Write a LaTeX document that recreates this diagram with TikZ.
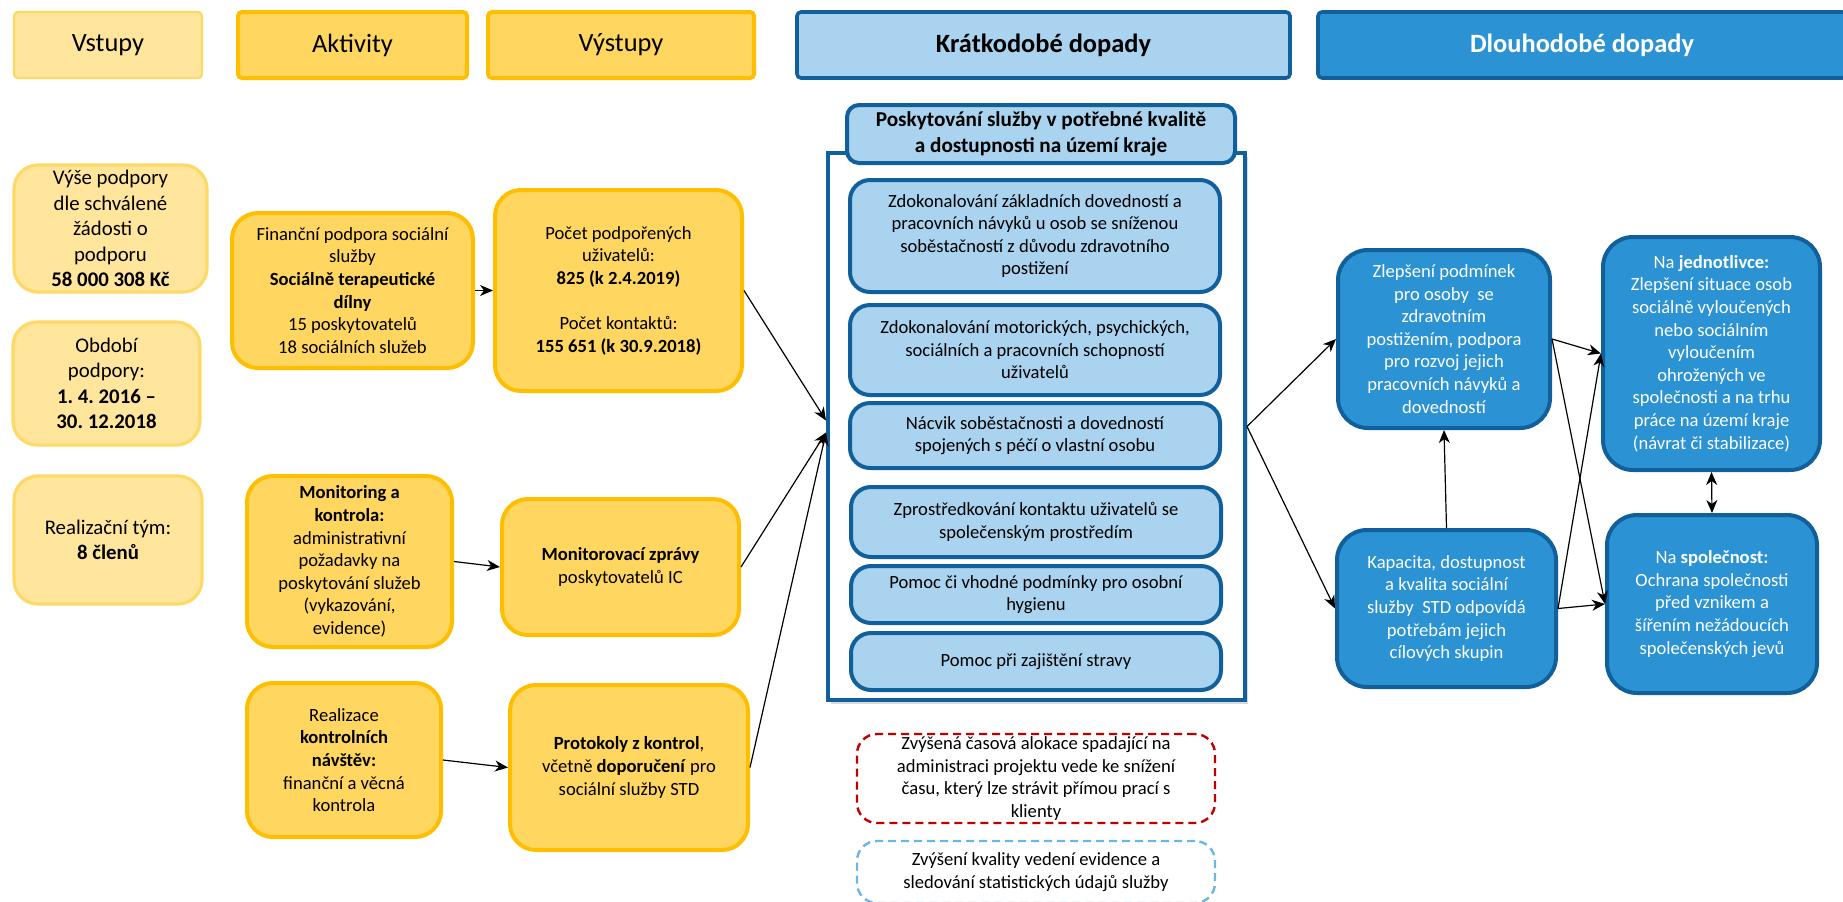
\documentclass[tikz,border=0pt]{standalone}
\usepackage{fontspec}
\setmainfont{Carlito}
\usetikzlibrary{arrows.meta,shadows}
\frenchspacing

\definecolor{vstupfill}{HTML}{FFE69C}
\definecolor{vstupline}{HTML}{FFD966}
\definecolor{aktfill}{HTML}{FFD65F}
\definecolor{aktline}{HTML}{FFBF00}
\definecolor{kratfill}{HTML}{A9D3EE}
\definecolor{modra}{HTML}{11609C}
\definecolor{dlfill}{HTML}{2B93D4}
\definecolor{cervena}{HTML}{C00000}
\definecolor{svetle}{HTML}{6CB6E4}

\begin{document}
\begin{tikzpicture}[x=0.5pt,y=-0.5pt,
    >={Stealth[length=6.5pt,width=5.5pt,inset=2pt]},
    every node/.style={inner sep=0pt,align=center,font=\fontsize{9.3}{11.3}\selectfont},
    hlava/.style={draw=modra,line width=1.8pt,rounded corners=2pt,minimum height=33pt,font=\fontsize{13.2}{16}\selectfont},
    vstup/.style={fill=vstupfill,draw=vstupline,line width=1.6pt,rounded corners=12pt,font=\fontsize{10.4}{12.7}\selectfont},
    akt/.style={fill=aktfill,draw=aktline,line width=2pt,rounded corners=13pt},
    kr/.style={fill=kratfill,draw=modra,line width=2pt,rounded corners=10pt,minimum width=185pt},
    dl/.style={fill=dlfill,draw=modra,line width=2pt,rounded corners=15pt,text=white},
    riziko/.style={draw=cervena,line width=1.2pt,dash pattern=on 4pt off 2.5pt,rounded corners=10pt,minimum width=179pt},
    prinos/.style={draw=svetle,line width=1.2pt,dash pattern=on 4pt off 2.5pt,rounded corners=10pt,minimum width=179pt},
    sipka/.style={->,line width=0.6pt}]
  \useasboundingbox (0,0) rectangle (1843,901);

  % hlavicky sloupcu
  \draw (108,45) node[hlava,fill=vstupfill,draw=vstupline,line width=1.2pt,minimum width=94pt] (h1) {Vstupy};
  \draw (352.5,45) node[hlava,fill=aktfill,draw=aktline,line width=2pt,minimum width=114.5pt] (h2) {Aktivity};
  \draw (621,45) node[hlava,fill=aktfill,draw=aktline,line width=2pt,minimum width=133pt] (h3) {Výstupy};
  \draw (1043.5,45) node[hlava,fill=kratfill,minimum width=246.5pt,font=\bfseries\fontsize{13.2}{16}\selectfont] (h4) {Krátkodobé dopady};
  \draw (1582,45) node[hlava,fill=dlfill,text=white,minimum width=264pt,font=\bfseries\fontsize{13.2}{16}\selectfont] (h5) {Dlouhodobé dopady};

  % vstupy
  \draw (110.5,228.5) node[vstup,minimum width=96.5pt,minimum height=63.5pt] (vyse) {Výše podpory\\dle schválené\\žádosti o\\podporu\\\textbf{58 000 308 Kč}};
  \draw (106.5,383.5) node[vstup,minimum width=93.5pt,minimum height=61.5pt] (obdobi) {Období\\podpory:\\\textbf{1. 4. 2016 –}\\\textbf{30. 12.2018}};
  \draw (108,540) node[vstup,minimum width=94pt,minimum height=64pt] (tym) {Realizační tým:\\\textbf{8 členů}};

  % aktivity
  \draw (352.5,290.5) node[akt,minimum width=120.5pt,minimum height=77.5pt] (fin) {Finanční podpora sociální\\služby\\\textbf{Sociálně terapeutické}\\\textbf{dílny}\\15 poskytovatelů\\18 sociálních služeb};
  \draw (349.5,561.5) node[akt,minimum width=102.5pt,minimum height=85.5pt] (mon) {\textbf{Monitoring a}\\\textbf{kontrola:}\\administrativní\\požadavky na\\poskytování služeb\\(vykazování,\\evidence)};
  \draw (344,760) node[akt,minimum width=97pt,minimum height=77pt] (real) {Realizace\\\textbf{kontrolních}\\\textbf{návštěv:}\\finanční a věcná\\kontrola};

  % vystupy
  \draw (618.5,290.5) node[akt,minimum width=123.5pt,minimum height=100.5pt] (pocet) {Počet podpořených\\uživatelů:\\\textbf{825 (k 2.4.2019)}\\[11.3pt]Počet kontaktů:\\\textbf{155 651 (k 30.9.2018)}};
  \draw (620.5,567) node[akt,minimum width=118.5pt,minimum height=68pt] (zpravy) {\textbf{Monitorovací zprávy}\\poskytovatelů IC};
  \draw (629,767.5) node[akt,minimum width=119pt,minimum height=82.5pt] (prot) {\textbf{Protokoly z kontrol},\\včetně \textbf{doporučení} pro\\sociální služby STD};

  % kratkodobe dopady
  \draw (1036.5,426.5) node[draw=modra,fill=white,line width=2pt,minimum width=208.5pt,minimum height=273.5pt,drop shadow={shadow xshift=1.5pt,shadow yshift=-2pt,opacity=0.3}] (ramec) {};
  \draw (1041,134) node[kr,rounded corners=6pt,minimum width=194pt,minimum height=29pt,font=\bfseries\fontsize{10.6}{13}\selectfont] (nadpis) {Poskytování služby v potřebné kvalitě\\a dostupnosti na území kraje};
  \draw (1035,236) node[kr,minimum height=56pt] (k1) {Zdokonalování základních dovedností a\\pracovních návyků u osob se sníženou\\soběstačností z důvodu zdravotního\\postižení};
  \draw (1035,350) node[kr,minimum height=45pt] (k2) {Zdokonalování motorických, psychických,\\sociálních a pracovních schopností\\uživatelů};
  \draw (1035,435.5) node[kr,minimum height=32.5pt] (k3) {Nácvik soběstačnosti a dovedností\\spojených s péčí o vlastní osobu};
  \draw (1036,522) node[kr,minimum height=35pt] (k4) {Zprostředkování kontaktu uživatelů se\\společenským prostředím};
  \draw (1036,594.5) node[kr,minimum height=28.5pt] (k5) {Pomoc či vhodné podmínky pro osobní\\hygienu};
  \draw (1036,661.5) node[kr,minimum height=28.5pt] (k6) {Pomoc při zajištění stravy};

  \draw (1036,778.5) node[riziko,minimum height=44.5pt] (riz) {Zvýšená časová alokace spadající na\\administraci projektu vede ke snížení\\času, který lze strávit přímou prací s\\klienty};
  \draw (1036,872) node[prinos,minimum height=31pt] (evid) {Zvýšení kvality vedení evidence a\\sledování statistických údajů služby};

  % dlouhodobe dopady
  \draw (1444,339) node[dl,minimum width=106pt,minimum height=89pt] (zlep) {Zlepšení podmínek\\pro osoby~~se\\zdravotním\\postižením, podpora\\pro rozvoj jejich\\pracovních návyků a\\dovedností};
  \draw (1446.5,608.5) node[dl,minimum width=109.5pt,minimum height=78.5pt] (kap) {Kapacita, dostupnost\\a kvalita sociální\\služby~~STD odpovídá\\potřebám jejich\\cílových skupin};
  \draw (1711.5,353.5) node[dl,minimum width=108.5pt,minimum height=116.5pt] (jedn) {Na \textbf{jednotlivce:}\\Zlepšení situace osob\\sociálně vyloučených\\nebo sociálním\\vyloučením\\ohrožených ve\\společnosti a na trhu\\práce na území kraje\\(návrat či stabilizace)};
  \draw (1712,604) node[dl,minimum width=105pt,minimum height=89pt] (spol) {Na \textbf{společnost:}\\Ochrana společnosti\\před vznikem a\\šířením nežádoucích\\společenských jevů};

  % sipky
  \path[sipka] (fin) edge (pocet);
  \path[sipka] (mon.east) edge (zpravy.west);
  \path[sipka] (real.east) edge (prot.west);
  \path[sipka] (pocet.east) edge ([yshift=3pt]ramec.west);
  \path[sipka] (zpravy.east) edge ([yshift=-3pt]ramec.west);
  \path[sipka] (prot.east) edge ([yshift=-3pt]ramec.west);
  \path[sipka] (ramec.east) edge (zlep.west);
  \path[sipka] (ramec.east) edge (kap.west);
  \path[sipka] (zlep.east) edge (jedn.west);
  \path[sipka] (zlep.east) edge (spol.west);
  \path[sipka] (kap.east) edge (jedn.west);
  \path[sipka] (kap.east) edge (spol.west);
  \path[sipka] (kap.north) edge (zlep.south);
  \path[sipka,<->] (jedn.south) edge (spol.north);

\end{tikzpicture}
\end{document}
